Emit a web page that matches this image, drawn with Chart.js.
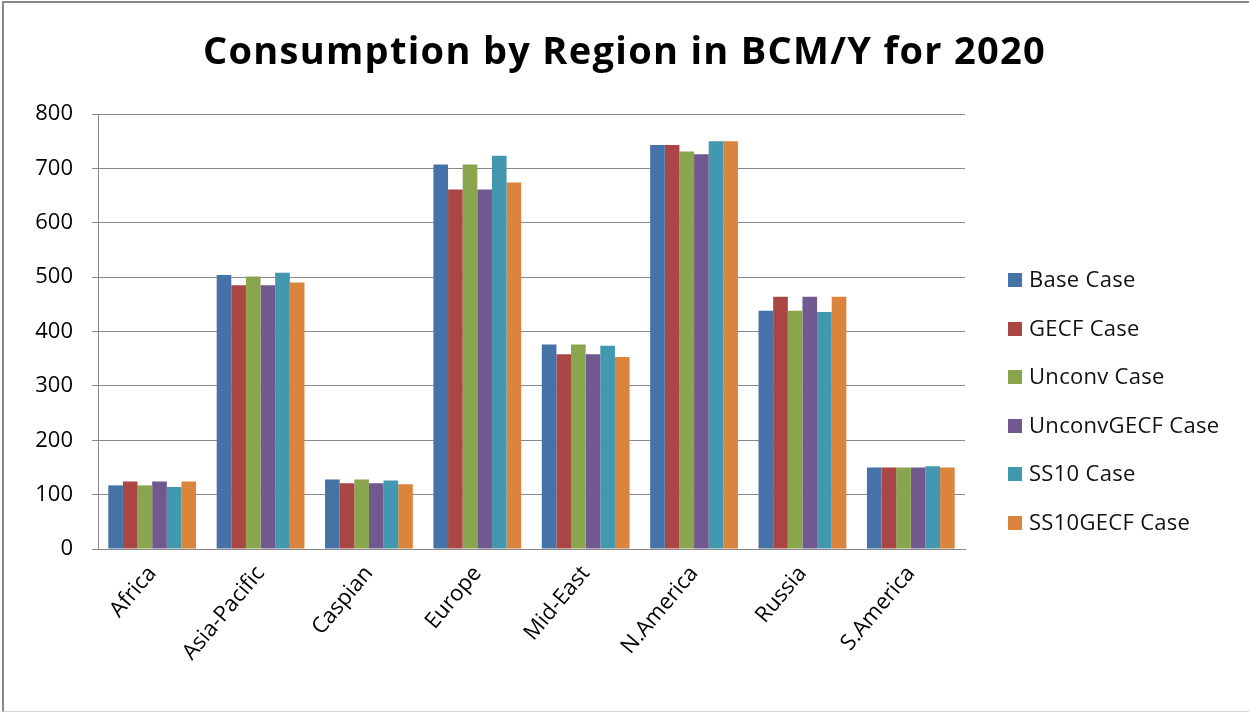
<!DOCTYPE html>
<html>
<head>
<meta charset="utf-8">
<script src="https://cdn.jsdelivr.net/npm/chart.js@4.4.1/dist/chart.umd.min.js"></script>
<style>
    body { margin: 0; background: #fff; }
    #wrap { position: relative; width: 1249px; height: 713px; overflow: hidden; }
    #frame {
        position: absolute; left: 2px; top: 1px; width: 1247px; height: 711px;
        box-sizing: border-box; border-left: 2px solid #888; border-top: 2px solid #888;
        border-bottom: 1px solid #d4d4d4; pointer-events: none;
    }
    #chart { position: absolute; left: 0; top: 0; }
    #title {
        position: absolute; left: 0; top: 23px; width: 1249px; text-align: center;
        font-family: "Open Sans", sans-serif; font-weight: bold; font-size: 38px;
        letter-spacing: 1.3px; color: #000;
    }
    #legend { position: absolute; left: 1008px; top: 264px; font-family: "Open Sans", sans-serif; font-size: 22px; letter-spacing: 0.3px; color: #111; }
    #legend div { height: 48.6px; line-height: 28px; white-space: nowrap; }
    #legend span { display: inline-block; width: 14px; height: 14px; margin-right: 7px; vertical-align: 0px; }
</style>
</head>
<body>
<div id="wrap">
    <canvas id="chart" width="1249" height="713"></canvas>
    <div id="title">Consumption by Region in BCM/Y for 2020</div>
    <div id="legend"></div>
    <div id="frame"></div>
</div>
<script>
const regions = ["Africa", "Asia-Pacific", "Caspian", "Europe", "Mid-East", "N.America", "Russia", "S.America"];

const baseCase = [117, 504, 128, 707, 376, 743, 438, 150];
const gecfCase = [124, 485, 121, 661, 358, 743, 464, 150];
const unconvCase = [117, 501, 128, 707, 376, 731, 438, 150];
const unconvGecfCase = [124, 485, 121, 661, 358, 726, 464, 150];
const ss10Case = [114, 508, 126, 723, 374, 750, 436, 152];
const ss10GecfCase = [124, 490, 119, 674, 353, 750, 464, 150];

const yTicks = [0, 100, 200, 300, 400, 500, 600, 700, 800];

const series = [
    { name: "Base Case", values: baseCase, color: "#4572A7" },
    { name: "GECF Case", values: gecfCase, color: "#AA4643" },
    { name: "Unconv Case", values: unconvCase, color: "#89A54E" },
    { name: "UnconvGECF Case", values: unconvGecfCase, color: "#71588F" },
    { name: "SS10 Case", values: ss10Case, color: "#4198AF" },
    { name: "SS10GECF Case", values: ss10GecfCase, color: "#DB843D" },
];

// legend as plain html, next to the plot
const legendEl = document.getElementById("legend");
for (let s of series) {
    const row = document.createElement("div");
    const box = document.createElement("span");
    box.style.background = s.color;
    row.appendChild(box);
    row.appendChild(document.createTextNode(s.name));
    legendEl.appendChild(row);
}

const tickFont = { family: "'Open Sans', sans-serif", size: 22 };

new Chart(document.getElementById("chart"), {
    type: "bar",
    data: {
        labels: regions,
        datasets: series.map((s) => ({
            label: s.name,
            data: s.values,
            backgroundColor: s.color,
            borderWidth: 0,
            barPercentage: 1.0,
            categoryPercentage: 0.81,
        })),
    },
    options: {
        responsive: false,
        animation: false,
        layout: {
            padding: { top: 114, right: 284, left: 0, bottom: 0 },
        },
        plugins: {
            legend: { display: false },
            title: { display: false },
            tooltip: { enabled: false },
        },
        scales: {
            x: {
                grid: { display: false },
                border: { display: true, color: "#888", width: 1 },
                ticks: {
                    color: "#000",
                    font: tickFont,
                    maxRotation: 50,
                    minRotation: 50,
                    padding: 4,
                },
                afterFit(scale) {
                    scale.height = 713 - 549;
                },
            },
            y: {
                min: 0,
                max: 800,
                afterBuildTicks(scale) {
                    scale.ticks = yTicks.map((v) => ({ value: v }));
                },
                grid: { color: "#8a8a8a", lineWidth: 1, tickLength: 6 },
                border: { display: true, color: "#888", width: 1 },
                ticks: {
                    color: "#000",
                    font: tickFont,
                    padding: 19,
                },
                afterFit(scale) {
                    scale.width = 98;
                },
            },
        },
    },
});
</script>
</body>
</html>
